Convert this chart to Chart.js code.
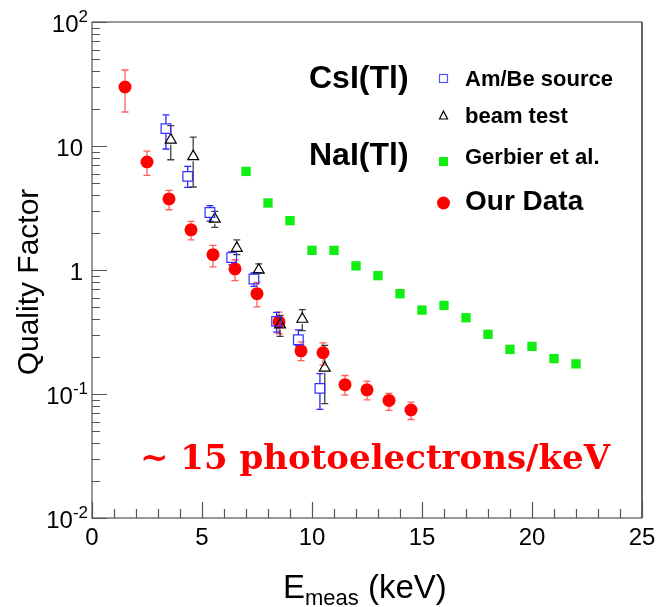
<!DOCTYPE html>
<html>
<head>
<meta charset="utf-8">
<script src="https://cdn.jsdelivr.net/npm/chart.js@4.4.0/dist/chart.umd.min.js"></script>
<style>
  html, body { margin: 0; padding: 0; background: #fff; }
  #wrap { width: 660px; height: 607px; position: relative; }
</style>
</head>
<body>
<div id="wrap"><canvas id="qf"></canvas></div>
<script>
// Our Data (red circles)
const ourX  = [1.5, 2.5, 3.5, 4.5, 5.5, 6.5, 7.5, 8.5, 9.5, 10.5, 11.5, 12.5, 13.5, 14.5];
const ourY  = [29.9, 7.43, 3.74, 2.11, 1.33, 1.02, 0.644, 0.381, 0.223, 0.215, 0.119, 0.108, 0.0887, 0.0743];
const ourHi = [41, 9.1, 4.38, 2.47, 1.58, 1.21, 0.794, 0.458, 0.263, 0.258, 0.141, 0.127, 0.101, 0.086];
const ourLo = [18.8, 5.8, 3.06, 1.75, 1.06, 0.82, 0.504, 0.306, 0.186, 0.171, 0.098, 0.0895, 0.0738, 0.0623];

// Am/Be source (open blue squares)
const ambeX  = [3.36, 4.35, 5.36, 6.35, 7.36, 8.39, 9.38, 10.36];
const ambeY  = [13.8, 5.69, 2.91, 1.26, 0.846, 0.385, 0.274, 0.111];
const ambeHi = [17.8, 6.85, 3.31, 1.4, 0.946, 0.455, 0.329, 0.146];
const ambeLo = [9.46, 4.63, 2.48, 1.1, 0.738, 0.316, 0.245, 0.0752];

// beam test (open black triangles)
const beamX  = [3.58, 4.6, 5.58, 6.58, 7.58, 8.55, 9.56, 10.58];
const beamY  = [11.2, 8.24, 2.58, 1.5, 1.0, 0.362, 0.402, 0.162];
const beamHi = [14.6, 11.8, 2.97, 1.75, 1.12, 0.43, 0.48, 0.247];
const beamLo = [7.75, 4.67, 2.21, 1.33, 0.95, 0.292, 0.324, 0.0836];

// Gerbier et al. (green squares)
const gerbX = [7, 8, 9, 10, 11, 12, 13, 14, 15, 16, 17, 18, 19, 20, 21, 22];
const gerbY = [6.24, 3.47, 2.5, 1.44, 1.44, 1.08, 0.9, 0.644, 0.475, 0.518, 0.412, 0.303, 0.229, 0.242, 0.193, 0.175];

// axis ticks
const xTickValues = [0, 5, 10, 15, 20, 25];
const xTickLabels = ['0', '5', '10', '15', '20', '25'];
const yTickValues = [0.01, 0.1, 1, 10, 100];
const yTickBase   = ['10', '10', '1', '10', '10'];
const yTickExp    = ['-2', '-1', '', '', '2'];

const legendLabels = ['Am/Be source', 'beam test', 'Gerbier et al.', 'Our Data'];

const SANS = '"Liberation Sans", Arial, Helvetica, sans-serif';
const pts = (xs, ys) => xs.map((x, i) => ({ x: x, y: ys[i] }));

const errSets = [
  { x: ourX,  y: ourY,  hi: ourHi,  lo: ourLo,  color: 'rgba(255,40,40,0.75)', gap: 6.5 },
  { x: ambeX, y: ambeY, hi: ambeHi, lo: ambeLo, color: '#2a2aff', gap: 4.8 },
  { x: beamX, y: beamY, hi: beamHi, lo: beamLo, color: 'rgba(0,0,0,0.75)', gap: 4.8 }
];

const errorBars = {
  id: 'errorBars',
  beforeDatasetsDraw(chart) {
    const { ctx, scales: { x, y } } = chart;
    ctx.save();
    ctx.lineWidth = 1.3;
    errSets.forEach((s) => {
      ctx.strokeStyle = s.color;
      s.x.forEach((xv, i) => {
        const px = x.getPixelForValue(xv);
        const py = y.getPixelForValue(s.y[i]);
        const ph = y.getPixelForValue(s.hi[i]);
        const pl = y.getPixelForValue(s.lo[i]);
        ctx.beginPath();
        if (py - ph > s.gap) { ctx.moveTo(px, ph); ctx.lineTo(px, py - s.gap); }
        if (pl - py > s.gap) { ctx.moveTo(px, py + s.gap); ctx.lineTo(px, pl); }
        ctx.moveTo(px - 3.5, ph); ctx.lineTo(px + 3.5, ph);
        ctx.moveTo(px - 3.5, pl); ctx.lineTo(px + 3.5, pl);
        ctx.stroke();
      });
    });
    ctx.restore();
  }
};

function drawSup(ctx, base, exp, right, cy, size) {
  ctx.textBaseline = 'middle';
  ctx.font = size + 'px ' + SANS;
  const small = Math.round(size * 0.7);
  let expW = 0;
  if (exp) {
    ctx.font = small + 'px ' + SANS;
    expW = ctx.measureText(exp).width;
    ctx.textAlign = 'left';
    ctx.fillText(exp, right - expW, cy - 8);
  }
  ctx.font = size + 'px ' + SANS;
  ctx.textAlign = 'right';
  ctx.fillText(base, right - expW, cy);
}

const frame = {
  id: 'frame',
  afterDraw(chart) {
    const { ctx, chartArea: a, scales: { x, y } } = chart;
    ctx.save();
    // frame
    ctx.lineWidth = 1.5;
    ctx.strokeStyle = '#777';
    ctx.beginPath();
    ctx.moveTo(a.left, a.top); ctx.lineTo(a.right, a.top);
    ctx.moveTo(a.left, a.top); ctx.lineTo(a.left, a.bottom); ctx.lineTo(a.right, a.bottom);
    ctx.stroke();
    ctx.strokeStyle = '#333';
    ctx.beginPath();
    ctx.moveTo(a.right, a.top); ctx.lineTo(a.right, a.bottom);
    ctx.stroke();

    // y ticks (log)
    ctx.strokeStyle = '#555';
    ctx.lineWidth = 1.2;
    ctx.beginPath();
    for (let d = -2; d < 2; d++) {
      for (let m = 1; m <= 10; m++) {
        const v = m * Math.pow(10, d);
        const py = Math.round(y.getPixelForValue(v)) + 0.5;
        const len = (m === 1 || m === 10) ? 15 : 8;
        ctx.moveTo(a.left, py); ctx.lineTo(a.left + len, py);
      }
    }
    // x ticks
    for (let v = 0; v <= 25; v++) {
      const px = Math.round(x.getPixelForValue(v)) + 0.5;
      const len = v % 5 === 0 ? 16 : 9;
      ctx.moveTo(px, a.bottom); ctx.lineTo(px, a.bottom - len);
    }
    ctx.stroke();

    // tick labels
    ctx.fillStyle = '#000';
    yTickValues.forEach((v, i) => {
      const py = y.getPixelForValue(v);
      const right = yTickExp[i] ? 88 : 83;
      drawSup(ctx, yTickBase[i], yTickExp[i], right, py + 3, 24);
    });
    ctx.font = '24px ' + SANS;
    ctx.textAlign = 'center';
    ctx.textBaseline = 'middle';
    xTickValues.forEach((v, i) => {
      ctx.fillText(xTickLabels[i], x.getPixelForValue(v), 538);
    });

    // axis titles
    ctx.save();
    ctx.translate(30, 282);
    ctx.rotate(-Math.PI / 2);
    ctx.font = '30px ' + SANS;
    ctx.textAlign = 'center';
    ctx.fillText('Quality Factor', 0, 0);
    ctx.restore();

    ctx.textAlign = 'left';
    ctx.textBaseline = 'alphabetic';
    let tx = 283;
    ctx.font = '33px ' + SANS;
    ctx.fillText('E', tx, 598);
    tx += ctx.measureText('E').width;
    ctx.font = '22px ' + SANS;
    ctx.fillText('meas', tx, 605);
    tx += ctx.measureText('meas').width;
    ctx.font = '33px ' + SANS;
    ctx.fillText(' (keV)', tx, 598);

    // legend
    ctx.textBaseline = 'middle';
    ctx.font = 'bold 32px ' + SANS;
    ctx.fillText('CsI(Tl)', 309, 79);
    ctx.fillText('NaI(Tl)', 309, 156);

    ctx.lineWidth = 1.2;
    ctx.strokeStyle = '#5555ff';
    ctx.strokeRect(439.5, 74.5, 8, 8);
    ctx.strokeStyle = '#000';
    ctx.beginPath();
    ctx.moveTo(443.5, 111); ctx.lineTo(447.5, 119); ctx.lineTo(439.5, 119); ctx.closePath();
    ctx.stroke();
    ctx.fillStyle = '#11ee11';
    ctx.fillRect(439, 157, 9, 9);
    ctx.fillStyle = '#ff0000';
    ctx.beginPath();
    ctx.arc(443.5, 203, 6.5, 0, Math.PI * 2);
    ctx.fill();

    ctx.fillStyle = '#000';
    ctx.font = 'bold 22px ' + SANS;
    ctx.fillText(legendLabels[0], 465, 80);
    ctx.fillText(legendLabels[1], 465, 117);
    ctx.fillText(legendLabels[2], 465, 158);
    ctx.font = 'bold 28px ' + SANS;
    ctx.fillText(legendLabels[3], 465, 202);

    // annotation
    ctx.fillStyle = '#ff0000';
    ctx.textBaseline = 'alphabetic';
    ctx.font = 'bold 34px "DejaVu Serif", "Liberation Serif", serif';
    ctx.fillText('~ 15 photoelectrons/keV', 140, 469);
    ctx.restore();
  }
};

new Chart(document.getElementById('qf'), {
  type: 'scatter',
  data: {
    datasets: [
      {
        label: legendLabels[0], data: pts(ambeX, ambeY),
        pointStyle: 'rect', pointRadius: 6.8, borderColor: '#3030ff', borderWidth: 1.2,
        backgroundColor: 'rgba(0,0,0,0)'
      },
      {
        label: legendLabels[1], data: pts(beamX, beamY),
        pointStyle: 'triangle', pointRadius: 6.3, borderColor: '#000', borderWidth: 1.2,
        backgroundColor: 'rgba(0,0,0,0)'
      },
      {
        label: legendLabels[3], data: pts(ourX, ourY),
        pointStyle: 'circle', pointRadius: 6.5, borderWidth: 0,
        backgroundColor: '#ff0000'
      },
      {
        label: legendLabels[2], data: pts(gerbX, gerbY),
        pointStyle: 'rect', pointRadius: 6.6, borderWidth: 0,
        backgroundColor: '#11ee11'
      }
    ]
  },
  options: {
    responsive: true,
    maintainAspectRatio: false,
    animation: false,
    layout: { padding: { left: 92, right: 18, top: 22, bottom: 89 } },
    plugins: { legend: { display: false }, tooltip: { enabled: false } },
    scales: {
      x: { type: 'linear', min: 0, max: 25, display: false },
      y: { type: 'logarithmic', min: 0.01, max: 100, display: false }
    }
  },
  plugins: [errorBars, frame]
});
</script>
</body>
</html>
